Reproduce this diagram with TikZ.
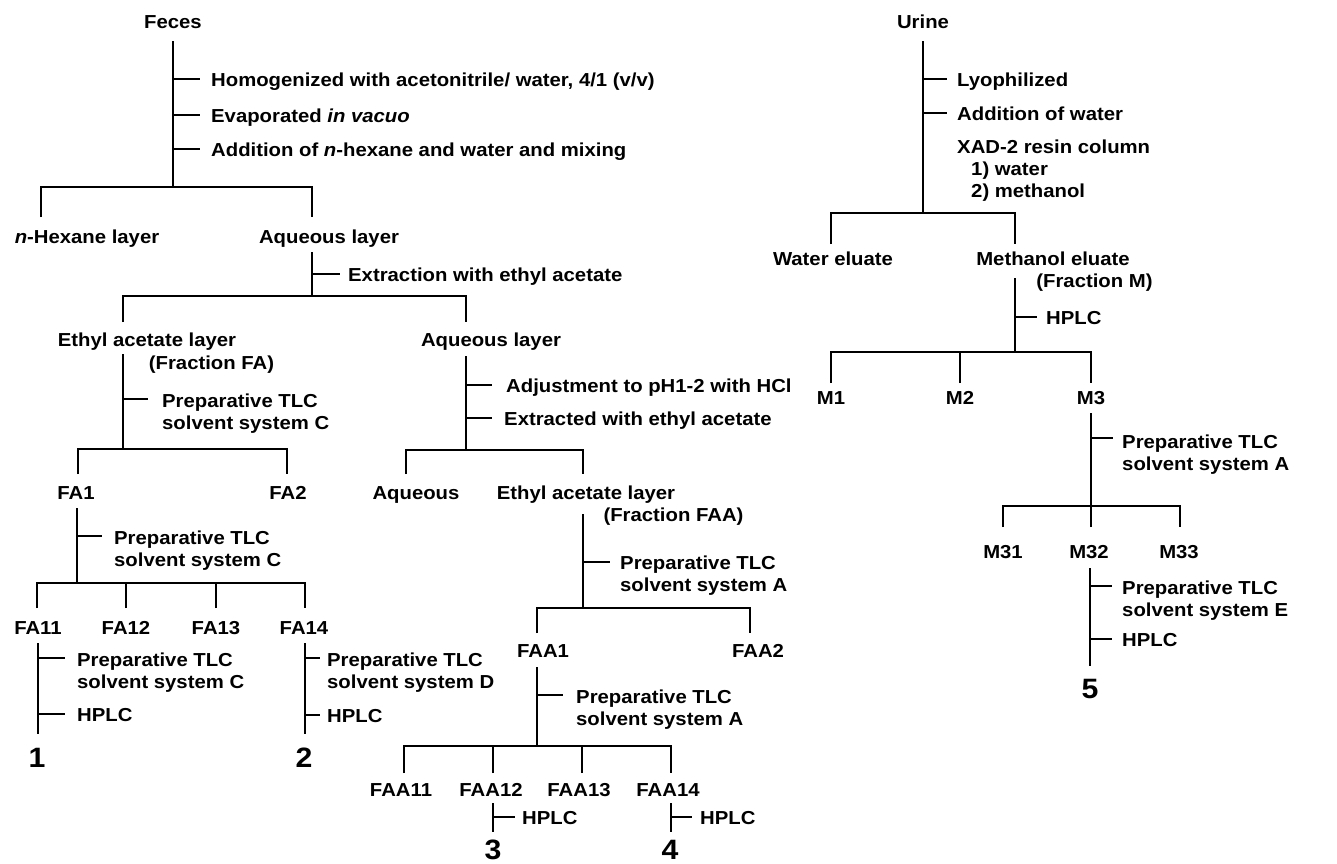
\documentclass[tikz,border=0pt]{standalone}
\usepackage{fontspec}
\setmainfont[FakeStretch=1.08]{Liberation Sans}
\begin{document}
\begin{tikzpicture}[x=1pt,y=-1pt,
  lbl/.style={font=\fontsize{18.8}{22}\selectfont\bfseries, inner sep=0pt, anchor=base},
  stp/.style={font=\fontsize{18.8}{22}\selectfont\bfseries, inner sep=0pt, anchor=base west, align=left},
  big/.style={font=\fontsize{28}{30}\selectfont\bfseries, inner sep=0pt, anchor=base},
  ln/.style={line width=1.8pt},
  tk/.style={line width=1.6pt}]
\useasboundingbox (0,0) rectangle (1337,863);

% ---------------- Feces ----------------
\node[lbl] (fec) at (173,28.5) {Feces};
\coordinate (fecT) at (173,41); \coordinate (fecJ) at (173,187);
\draw[ln] (fecT) -- (fecJ);
\coordinate (k1) at (173,79); \coordinate (k2) at (173,115); \coordinate (k3) at (173,149);
\draw[tk] (k1) -- ++(27,0); \draw[tk] (k2) -- ++(27,0); \draw[tk] (k3) -- ++(27,0);
\node[stp] (s1) at (211,86) {Homogenized with acetonitrile/ water, 4/1 (v/v)};
\node[stp] (s2) at (211,122) {Evaporated \textit{in vacuo}};
\node[stp] (s3) at (211,156) {Addition of \textit{n}-hexane and water and mixing};
\coordinate (hexD) at (41,217); \coordinate (aq1D) at (312,217);
\draw[ln] (hexD) |- (fecJ) -| (aq1D);
\node[lbl] (hex) at (87,243) {\textit{n}-Hexane layer};
\node[lbl] (aq1) at (329,243) {Aqueous layer};

% aqueous layer 1
\coordinate (aq1T) at (312,252); \coordinate (aq1J) at (312,296);
\draw[ln] (aq1T) -- (aq1J);
\coordinate (k4) at (312,274); \draw[tk] (k4) -- ++(28,0);
\node[stp] (s4) at (348,281) {Extraction with ethyl acetate};
\coordinate (ethD) at (123,322); \coordinate (aq2D) at (466,322);
\draw[ln] (ethD) |- (aq1J) -| (aq2D);
\node[lbl] (eth) at (147,346.5) {Ethyl acetate layer};
\node[lbl] (frFA) at (211.5,369.5) {(Fraction FA)};

% ethyl acetate layer (FA)
\coordinate (ethT) at (123,354); \coordinate (ethJ) at (123,449);
\draw[ln] (ethT) -- (ethJ);
\coordinate (k5) at (123,399); \draw[tk] (k5) -- ++(25,0);
\node[stp] (s5) at (162,429) {Preparative TLC\\solvent system C};
\coordinate (fa1D) at (78,474); \coordinate (fa2D) at (287,474);
\draw[ln] (fa1D) |- (ethJ) -| (fa2D);
\node[lbl] (fa1) at (76,499.5) {FA1};
\node[lbl] (fa2) at (288,499.5) {FA2};

% FA1
\coordinate (fa1T) at (77,508); \coordinate (fa1J) at (77,583);
\draw[ln] (fa1T) -- (fa1J);
\coordinate (k6) at (77,536); \draw[tk] (k6) -- ++(25,0);
\node[stp] (s6) at (114,566) {Preparative TLC\\solvent system C};
\coordinate (fa11D) at (37,608); \coordinate (fa12D) at (126,608);
\coordinate (fa13D) at (216,608); \coordinate (fa14D) at (305,608);
\draw[ln] (fa11D) |- (fa1J) -| (fa14D);
\draw[ln] (fa12D) -- (fa12D |- fa1J);
\draw[ln] (fa13D) -- (fa13D |- fa1J);
\node[lbl] (fa11) at (38,634.5) {FA11};
\node[lbl] (fa12) at (126,634.5) {FA12};
\node[lbl] (fa13) at (216,634.5) {FA13};
\node[lbl] (fa14) at (304,634.5) {FA14};

% FA11
\coordinate (fa11T) at (38,643); \coordinate (fa11B) at (38,734);
\draw[ln] (fa11T) -- (fa11B);
\coordinate (k7) at (38,658); \coordinate (k8) at (38,714);
\draw[tk] (k7) -- ++(27,0); \draw[tk] (k8) -- ++(27,0);
\node[stp] (s7) at (77,688) {Preparative TLC\\solvent system C};
\node[stp] (s8) at (77,721) {HPLC};
\node[big] (n1) at (37,767) {1};

% FA14
\coordinate (fa14T) at (305,643); \coordinate (fa14B) at (305,734);
\draw[ln] (fa14T) -- (fa14B);
\coordinate (k9) at (305,658); \coordinate (k10) at (305,715);
\draw[tk] (k9) -- ++(15,0); \draw[tk] (k10) -- ++(15,0);
\node[stp] (s9) at (327,688) {Preparative TLC\\solvent system D};
\node[stp] (s10) at (327,722) {HPLC};
\node[big] (n2) at (304,767) {2};

% ---------------- aqueous layer 2 ----------------
\node[lbl] (aq2) at (491,346.5) {Aqueous layer};
\coordinate (aq2T) at (466,356); \coordinate (aq2J) at (466,450);
\draw[ln] (aq2T) -- (aq2J);
\coordinate (k11) at (466,385); \coordinate (k12) at (466,418);
\draw[tk] (k11) -- ++(26,0); \draw[tk] (k12) -- ++(26,0);
\node[stp] (s11) at (506,392) {Adjustment to pH1-2 with HCl};
\node[stp] (s12) at (504,425) {Extracted with ethyl acetate};
\coordinate (aq3D) at (406,474); \coordinate (eth2D) at (583,474);
\draw[ln] (aq3D) |- (aq2J) -| (eth2D);
\node[lbl] (aq3) at (416,499.5) {Aqueous};
\node[lbl] (eth2) at (586,499.5) {Ethyl acetate layer};
\node[lbl] (frFAA) at (673.5,521.5) {(Fraction FAA)};

% FAA
\coordinate (eth2T) at (583,514); \coordinate (eth2J) at (583,608);
\draw[ln] (eth2T) -- (eth2J);
\coordinate (k13) at (583,562); \draw[tk] (k13) -- ++(27,0);
\node[stp] (s13) at (620,591) {Preparative TLC\\solvent system A};
\coordinate (faa1D) at (537,633); \coordinate (faa2D) at (750,633);
\draw[ln] (faa1D) |- (eth2J) -| (faa2D);
\node[lbl] (faa1) at (543,657.5) {FAA1};
\node[lbl] (faa2) at (758,657.5) {FAA2};

% FAA1
\coordinate (faa1T) at (537,667); \coordinate (faa1J) at (537,746);
\draw[ln] (faa1T) -- (faa1J);
\coordinate (k14) at (537,695); \draw[tk] (k14) -- ++(26,0);
\node[stp] (s14) at (576,725) {Preparative TLC\\solvent system A};
\coordinate (faa11D) at (404,773); \coordinate (faa12D) at (493,773);
\coordinate (faa13D) at (582,773); \coordinate (faa14D) at (671,773);
\draw[ln] (faa11D) |- (faa1J) -| (faa14D);
\draw[ln] (faa12D) -- (faa12D |- faa1J);
\draw[ln] (faa13D) -- (faa13D |- faa1J);
\node[lbl] (faa11) at (401,796.5) {FAA11};
\node[lbl] (faa12) at (491,796.5) {FAA12};
\node[lbl] (faa13) at (579,796.5) {FAA13};
\node[lbl] (faa14) at (668,796.5) {FAA14};

% FAA12 / FAA14
\coordinate (faa12T) at (493,803); \coordinate (faa12B) at (493,832);
\draw[ln] (faa12T) -- (faa12B);
\coordinate (k15) at (493,817); \draw[tk] (k15) -- ++(22,0);
\node[stp] (s15) at (522,824) {HPLC};
\node[big] (n3) at (493,859) {3};
\coordinate (faa14T) at (671,803); \coordinate (faa14B) at (671,832);
\draw[ln] (faa14T) -- (faa14B);
\coordinate (k16) at (671,817); \draw[tk] (k16) -- ++(21,0);
\node[stp] (s16) at (700,824) {HPLC};
\node[big] (n4) at (670,859) {4};

% ---------------- Urine ----------------
\node[lbl] (uri) at (923,28.5) {Urine};
\coordinate (uriT) at (923,41); \coordinate (uriJ) at (923,213);
\draw[ln] (uriT) -- (uriJ);
\coordinate (k17) at (923,79); \coordinate (k18) at (923,113);
\draw[tk] (k17) -- ++(24,0); \draw[tk] (k18) -- ++(24,0);
\node[stp] (s17) at (957,86) {Lyophilized};
\node[stp] (s18) at (957,120) {Addition of water};
\node[stp] (s19) at (957,197.5) {XAD-2 resin column\\\hspace*{14pt}1) water\\\hspace*{14pt}2) methanol};
\coordinate (watD) at (831,244); \coordinate (methD) at (1015,244);
\draw[ln] (watD) |- (uriJ) -| (methD);
\node[lbl] (wat) at (833,265.5) {Water eluate};
\node[lbl] (meth) at (1053,265.5) {Methanol eluate};
\node[lbl] (frM) at (1094.5,287.5) {(Fraction M)};

% Methanol eluate
\coordinate (methT) at (1015,278); \coordinate (methJ) at (1015,352);
\draw[ln] (methT) -- (methJ);
\coordinate (k19) at (1015,317); \draw[tk] (k19) -- ++(22,0);
\node[stp] (s20) at (1046,324) {HPLC};
\coordinate (m1D) at (831,383); \coordinate (m2D) at (960,383); \coordinate (m3D) at (1091,383);
\draw[ln] (m1D) |- (methJ) -| (m3D);
\draw[ln] (m2D) -- (m2D |- methJ);
\node[lbl] (m1) at (831,404.5) {M1};
\node[lbl] (m2) at (960,404.5) {M2};
\node[lbl] (m3) at (1091,404.5) {M3};

% M3
\coordinate (m3T) at (1091,413); \coordinate (m3J) at (1091,506);
\draw[ln] (m3T) -- (m3J);
\coordinate (k21) at (1091,438); \draw[tk] (k21) -- ++(22,0);
\node[stp] (s21) at (1122,470) {Preparative TLC\\solvent system A};
\coordinate (m31D) at (1003,527); \coordinate (m32D) at (1091,527); \coordinate (m33D) at (1180,527);
\draw[ln] (m31D) |- (m3J) -| (m33D);
\draw[ln] (m32D) -- (m3J);
\node[lbl] (m31) at (1003,558.5) {M31};
\node[lbl] (m32) at (1089,558.5) {M32};
\node[lbl] (m33) at (1179,558.5) {M33};

% M32
\coordinate (m32T) at (1090,568); \coordinate (m32B) at (1090,666);
\draw[ln] (m32T) -- (m32B);
\coordinate (k22) at (1090,586); \coordinate (k23) at (1090,639);
\draw[tk] (k22) -- ++(22,0); \draw[tk] (k23) -- ++(22,0);
\node[stp] (s22) at (1122,616) {Preparative TLC\\solvent system E};
\node[stp] (s23) at (1122,646) {HPLC};
\node[big] (n5) at (1090,698) {5};
\end{tikzpicture}
\end{document}
